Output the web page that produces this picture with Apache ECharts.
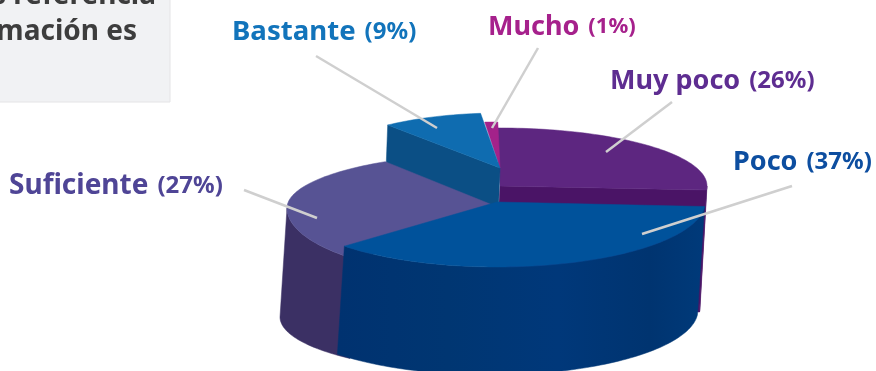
<!DOCTYPE html>
<html><head><meta charset="utf-8">
<style>html,body{margin:0;padding:0;background:#fff}#c{width:876px;height:371px}</style>
<script src="https://cdn.jsdelivr.net/npm/echarts@6/dist/echarts.min.js"></script>
</head><body><div id="c"></div>
<script>
// data (drawing order: back to front)
const categories = ['Muy poco', 'Mucho', 'Bastante', 'Suficiente', 'Poco'];
const values = [26, 1, 9, 27, 37];
const boxLines = ['s referencia', 'mación es'];

// styles
const topColors = ['#5d2680', '#a3228a', '#0f6cb0', '#575394', '#00529b'];
const wallColors = ['#4a1466', '#7d1a6a', '#0b4f85', '#3b3064', '#003672'];
const textColors = ['#5e2d91', '#a6218c', '#1274bb', '#4f4596', '#0d4ea0'];

// projected slice geometry: centre, radii, extrusion, rotation tweak,
// cut face, how far the sweep continues under the next slice, lower-rim radius
const START_ANGLE = 4;
const geometry = [
  {cx:500, cy:186, rx:207, back:58, front:58, foot:58, dx:-7, dy:122, turn:0,  face:'start', under:1.5},
  {cx:500, cy:168, rx:209, back:46, front:46, foot:46, dx:0,  dy:0,   turn:-1, face:null,    under:0},
  {cx:500, cy:168, rx:180, back:55, front:55, foot:55, dx:-3, dy:80,  turn:-3, face:'end',   under:0},
  {cx:500, cy:208, rx:213, back:55, front:70, foot:56, dx:-7, dy:109, turn:3,  face:null,    under:8},
  {cx:497, cy:202, rx:208, back:64, front:65, foot:65, dx:-7, dy:108, turn:0,  face:null,    under:0}
];
// annotation layout: label anchor, type sizes and leader ends
const notes = [
  {x:610, y:81,  name:27,   pct:24, line:[[672,102],[606,152]]},
  {x:488, y:27,  name:27,   pct:22, line:[[538,48],[492,128]]},
  {x:232, y:32,  name:27.6, pct:24, line:[[316,56],[437,128]]},
  {x:9,   y:186, name:28,   pct:24, line:[[244,190],[317,218]]},
  {x:733, y:162, name:27,   pct:24, line:[[792,186],[642,234]]}
];

const total = values.reduce((a, b) => a + b, 0);
const RAD = Math.PI / 180;
const spans = values.map(v => v / total * 360);
function range(i) {
  let a = START_ANGLE;
  for (let k = 0; k < i; k++) a -= spans[k];
  return [a + geometry[i].turn, a - spans[i] + geometry[i].turn - geometry[i].under];
}
function rim(g, deg) {
  const s = Math.sin(deg * RAD);
  return [g.cx + g.rx * Math.cos(deg * RAD), g.cy + (s > 0 ? g.front : g.back) * s];
}
function lowerRim(g, deg) {
  const s = Math.max(0, Math.sin(deg * RAD));
  return [g.cx + g.rx * Math.cos(deg * RAD) + g.dx, g.cy + g.foot * s + g.dy];
}
function sweep(from, to) {
  const n = Math.max(2, Math.ceil(Math.abs(to - from) / 1.5));
  const out = [];
  for (let k = 0; k <= n; k++) out.push(from + (to - from) * k / n);
  return out;
}
function wall(g, from, to) {
  const degs = sweep(from, to);
  return degs.map(d => rim(g, d)).concat(degs.slice().reverse().map(d => lowerRim(g, d)));
}
function face(g, deg) {
  const a = [g.cx, g.cy], b = rim(g, deg);
  return [a, b, [b[0] + g.dx, b[1] + g.dy], [a[0] + g.dx, a[1] + g.dy]];
}
function frontParts(from, to) {
  // from > to; the part of the sweep whose sine is positive faces the viewer
  const parts = [];
  for (let k = -2; k <= 1; k++) {
    const hi = Math.min(from, 180 + k * 360), lo = Math.max(to, k * 360);
    if (hi > lo) parts.push([hi, lo]);
  }
  return parts;
}
function poly(points, fill) {
  return {type:'polygon', shape:{points}, style:{fill, stroke:fill, lineWidth:0.5}};
}
function wallFill(i) {
  const c = wallColors[i];
  if (i !== 4) return c;
  return new echarts.graphic.LinearGradient(0, 0, 1, 0, [
    {offset:0, color:'#003270'},{offset:0.3, color:'#003672'},
    {offset:0.6, color:'#00387a'},{offset:0.85, color:'#003470'},{offset:1, color:'#003a7a'}
  ]);
}
function renderSlice(params) {
  const i = params.dataIndex, g = geometry[i], [a0, a1] = range(i), children = [];
  frontParts(a0, a1).forEach(p => {
    if (g.dy) children.push(poly(wall(g, p[0], p[1]), wallFill(i)));
  });
  if (g.face === 'start') children.push(poly(face(g, a0), wallColors[i]));
  if (g.face === 'end') children.push(poly(face(g, a1), wallColors[i]));
  children.push(poly([[g.cx, g.cy]].concat(sweep(a0, a1).map(d => rim(g, d))), topColors[i]));
  return {type:'group', children};
}
function renderNote(params) {
  const i = params.dataIndex, n = notes[i];
  const c = textColors[i];
  return {type:'group', children:[
    {type:'polyline', shape:{points:n.line}, style:{stroke:'#cfcfcf', lineWidth:2.5, fill:null}},
    {type:'text', x:n.x, y:n.y, style:{
      text:'{a|' + categories[i] + '}{b|(' + values[i] + '%)}',
      verticalAlign:'middle',
      rich:{
        a:{fontFamily:'Noto Sans', fontWeight:700, fontSize:n.name, fill:c, color:c},
        b:{fontFamily:'Noto Sans', fontWeight:700, fontSize:n.pct, fill:c, color:c, padding:[0,0,0,9]}
      }
    }}
  ]};
}
const chart = echarts.init(document.getElementById('c'), null, {renderer:'canvas'});
chart.setOption({
  animation:false,
  graphic:{elements:[
    {type:'rect', z:0, shape:{x:-2, y:-2, width:172, height:104}, style:{fill:'#f1f2f4', stroke:'#e4e4e6', lineWidth:1}},
    {type:'text', z:1, x:156, y:-4, style:{text:boxLines[0], align:'right', verticalAlign:'middle', font:'700 28px "Noto Sans"', fill:'#3d3d3d'}},
    {type:'text', z:1, x:137, y:32, style:{text:boxLines[1], align:'right', verticalAlign:'middle', font:'700 28px "Noto Sans"', fill:'#3d3d3d'}}
  ]},
  series:[
    {type:'custom', coordinateSystem:'none', silent:true, data:values, renderItem:renderSlice, z:2},
    {type:'custom', coordinateSystem:'none', silent:true, data:values, renderItem:renderNote, z:3}
  ]
});
</script></body></html>
